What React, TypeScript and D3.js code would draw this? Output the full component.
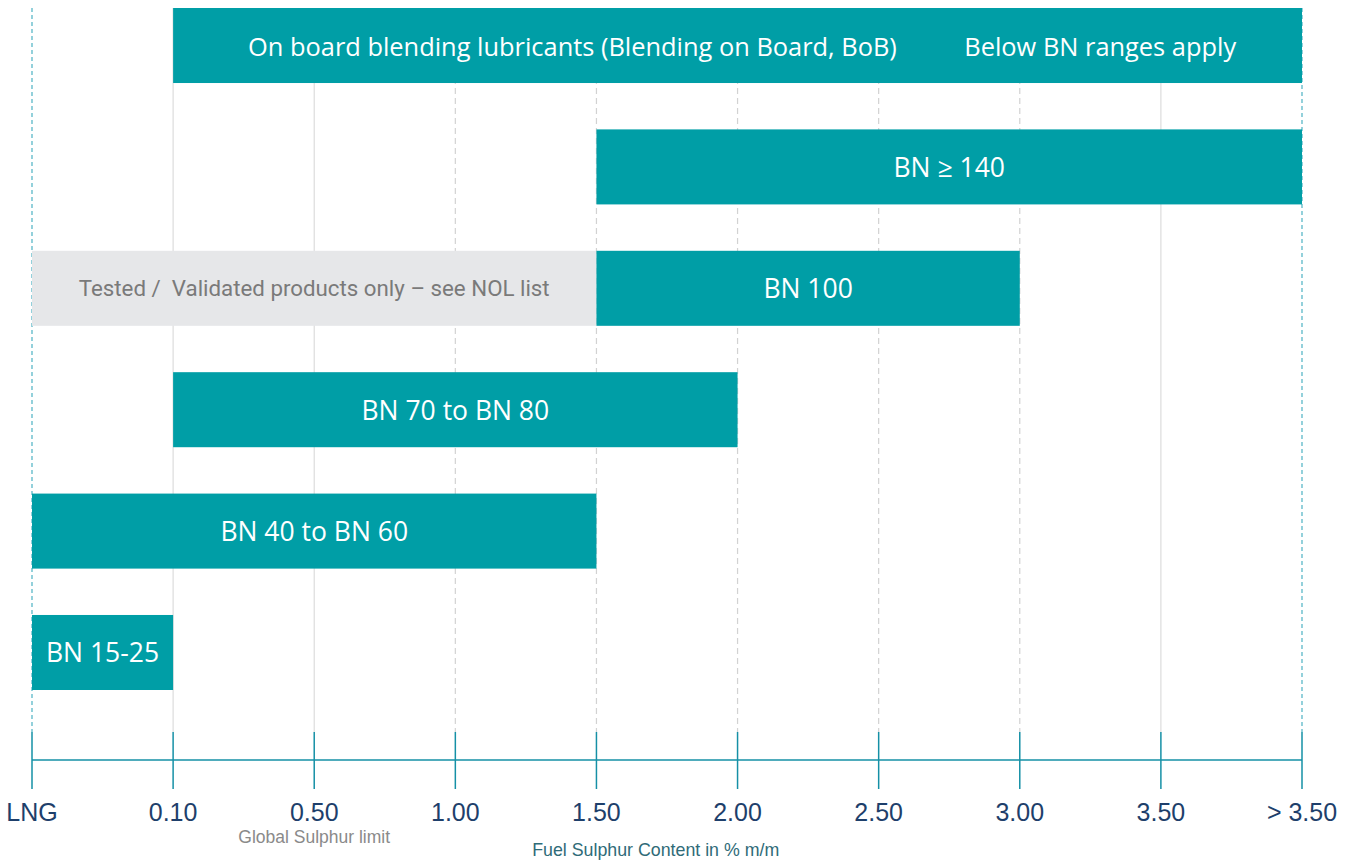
import React from "react";
import * as d3 from "d3";

const categories = ["LNG", "0.10", "0.50", "1.00", "1.50", "2.00", "2.50", "3.00", "3.50", "> 3.50"];
const rows = ["bob", "bn140", "bn100", "bn70", "bn40", "bn15"];

// Teal bars: row, start category, end category, label
const barRows = ["bob", "bn140", "bn100", "bn70", "bn40", "bn15"];
const barStarts = ["0.10", "1.50", "1.50", "0.10", "LNG", "LNG"];
const barEnds = ["> 3.50", "> 3.50", "3.00", "2.00", "1.50", "0.10"];
const barLabels = ["", "BN \u2265 140", "BN 100", "BN 70 to BN 80", "BN 40 to BN 60", "BN 15-25"];

// Grey band (validated products)
const greyRow = "bn100";
const greyStart = "LNG";
const greyEnd = "1.50";
const greyLabel = "Tested /  Validated products only \u2013 see NOL list";

// Extra labels on the top bar, positioned in category-index units
const bobLabels = ["On board blending lubricants (Blending on Board, BoB)", "Below BN ranges apply"];
const bobLabelAt = [3.83, 7.57];

// grid line styles per category
const gridStyles = ["edge", "solid", "solid", "dash", "dash", "dash", "dash", "dash", "solid", "edge"];

const W = 1349;
const H = 863;
const TEAL = "#009EA6";
const AXIS = "#1590A6";

export default function App() {
  const x = d3.scalePoint<string>().domain(categories).range([32, 1302]);
  const xi = d3.scaleLinear().domain([0, categories.length - 1]).range([32, 1302]);
  const y = d3.scaleBand<string>().domain(rows).range([8, 690]).paddingInner(0.382).paddingOuter(0);
  const bh = y.bandwidth();
  const axisY = 760;
  const gridTop = 8;
  const gridBottom = 732;
  const font = "'Open Sans', sans-serif";
  const tickFont = "'Liberation Sans', Arial, sans-serif";

  return (
    <svg width={W} height={H} style={{ position: "absolute", left: 0, top: 0, background: "#fff" }}>
      {/* grid */}
      {categories.map((c, i) => {
        const s = gridStyles[i];
        const px = x(c)!;
        if (s === "edge")
          return (
            <line key={c} x1={px} x2={px} y1={gridTop} y2={gridBottom} stroke="#5BB8C8" strokeWidth={1.3} strokeDasharray="4,3" />
          );
        return (
          <line
            key={c}
            x1={px}
            x2={px}
            y1={gridTop}
            y2={gridBottom}
            stroke={s === "solid" ? "#DCDCDC" : "#D2D2D2"}
            strokeWidth={1.2}
            strokeDasharray={s === "dash" ? "6,4" : undefined}
          />
        );
      })}

      {/* grey band */}
      <rect
        x={x(greyStart)!}
        y={y(greyRow)!}
        width={x(greyEnd)! - x(greyStart)!}
        height={bh}
        fill="#E6E7E9"
      />
      <text
        x={(x(greyStart)! + x(greyEnd)!) / 2}
        y={y(greyRow)! + bh / 2}
        textAnchor="middle"
        dominantBaseline="central"
        fill="#7A7A7A"
        fontFamily="Roboto, sans-serif"
        fontSize={22.3}
        style={{ whiteSpace: "pre" }}
      >
        {greyLabel}
      </text>

      {/* teal bars */}
      {barRows.map((r, i) => {
        const x0 = x(barStarts[i])!;
        const x1 = x(barEnds[i])!;
        return (
          <g key={r}>
            <rect x={x0} y={y(r)!} width={x1 - x0} height={bh} fill={TEAL} />
            {barLabels[i] && (
              <text
                x={(x0 + x1) / 2}
                y={y(r)! + bh / 2}
                textAnchor="middle"
                dominantBaseline="central"
                fill="#fff"
                fontFamily={font}
                fontSize={26.5}
              >
                {barLabels[i]}
              </text>
            )}
          </g>
        );
      })}
      {bobLabels.map((t, i) => (
        <text
          key={t}
          x={xi(bobLabelAt[i])}
          y={y("bob")! + bh / 2}
          textAnchor="middle"
          dominantBaseline="central"
          fill="#fff"
          fontFamily={font}
          fontSize={25.4}
        >
          {t}
        </text>
      ))}

      {/* axis */}
      <line x1={x(categories[0])!} x2={x(categories[categories.length - 1])!} y1={axisY} y2={axisY} stroke={AXIS} strokeWidth={1.5} />
      {categories.map((c) => (
        <g key={c}>
          <line x1={x(c)!} x2={x(c)!} y1={732} y2={789} stroke={AXIS} strokeWidth={1.5} />
          <text x={x(c)!} y={821} textAnchor="middle" fill="#1E3F6B" fontFamily={tickFont} fontSize={25}>
            {c}
          </text>
        </g>
      ))}
      <text x={x("0.50")!} y={843} textAnchor="middle" fill="#8A8A8A" fontFamily={tickFont} fontSize={17.5}>
        Global Sulphur limit
      </text>
      <text x={xi(4.42)} y={856} textAnchor="middle" fill="#2F6B78" fontFamily={tickFont} fontSize={17.8}>
        Fuel Sulphur Content in % m/m
      </text>
    </svg>
  );
}
